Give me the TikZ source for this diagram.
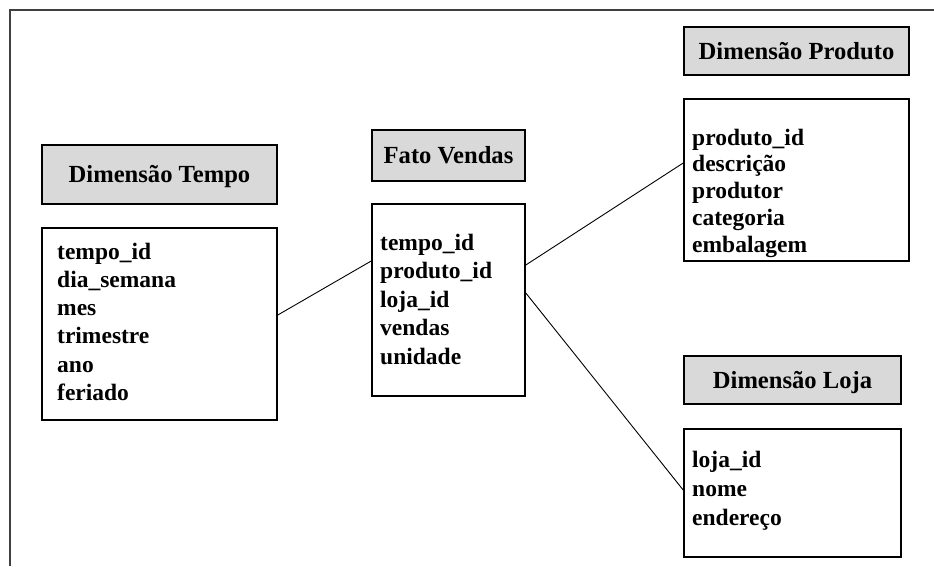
\documentclass[tikz,border=0pt]{standalone}
\usepackage{fontspec}
\setmainfont{Liberation Serif}
\definecolor{headgray}{RGB}{217,217,217}
\definecolor{framegray}{RGB}{64,64,64}
\newcommand\tabfont{\fontsize{23.5}{28}\selectfont\bfseries}
\newcommand\headfont{\fontsize{24.6}{28}\selectfont\bfseries}
\tikzset{
  tabhead/.style={draw=black, line width=1.6pt, fill=headgray, inner sep=0pt,
    text height=16pt, text depth=0pt, font=\headfont},
  tabbody/.style={draw=black, line width=1.6pt, fill=white, inner sep=0pt},
  attr/.style={anchor=base west, inner sep=0pt, font=\tabfont},
  link/.style={line width=0.9pt, black},
  frameline/.style={line width=2.8pt, framegray},
}
\begin{document}
\begin{tikzpicture}[x=1pt,y=-1pt]
\useasboundingbox (0,0) rectangle (934,566);

% outer frame (top and left edges)
\draw[frameline] (934,10) -- (10,10) -- (10,566);

% Dimensão Tempo
\node[tabhead, minimum width=235pt, minimum height=59pt] (tempoHead) at (159.5,174.5) {Dimensão Tempo};
\node[tabbody, minimum width=235pt, minimum height=192pt] (tempoBody) at (159.5,324) {};
\foreach \t [count=\i from 0] in {tempo\_id, dia\_semana, mes, trimestre, ano, feriado}
  \node[attr] (tempo-\i) at (57, 259+28.3*\i) {\t};

% Fato Vendas
\node[tabhead, minimum width=153pt, minimum height=51pt] (fatoHead) at (448.5,155.5) {Fato Vendas};
\node[tabbody, minimum width=153pt, minimum height=192pt] (fatoBody) at (448.5,300) {};
\foreach \t [count=\i from 0] in {tempo\_id, produto\_id, loja\_id, vendas, unidade}
  \node[attr] (fato-\i) at (380, 250+28.6*\i) {\t};

% Dimensão Produto
\node[tabhead, minimum width=225pt, minimum height=48pt] (prodHead) at (796.5,51) {Dimensão Produto};
\node[tabbody, minimum width=225pt, minimum height=162pt] (prodBody) at (796.5,180) {};
\foreach \t [count=\i from 0] in {produto\_id, descrição, produtor, categoria, embalagem}
  \node[attr] (prod-\i) at (692, 145+26.8*\i) {\t};

% Dimensão Loja
\node[tabhead, minimum width=217pt, minimum height=48pt] (lojaHead) at (792.5,380) {Dimensão Loja};
\node[tabbody, minimum width=217pt, minimum height=128pt] (lojaBody) at (792.5,493) {};
\foreach \t [count=\i from 0] in {loja\_id, nome, endereço}
  \node[attr] (loja-\i) at (692, 467+29*\i) {\t};

% links between fact and dimension tables
\draw[link] ([yshift=9pt]tempoBody.east) -- ([yshift=39pt]fatoBody.west);
\draw[link] ([yshift=35pt]fatoBody.east) -- ([yshift=17pt]prodBody.west);
\draw[link] ([yshift=7pt]fatoBody.east) -- ([yshift=3pt]lojaBody.west);
\end{tikzpicture}
\end{document}
